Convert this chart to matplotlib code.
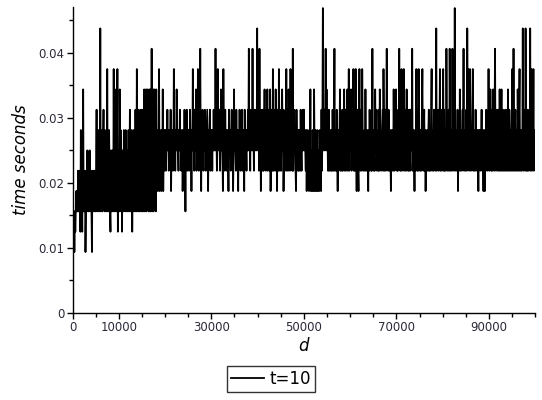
import numpy as np
import matplotlib
matplotlib.use('Agg')
import matplotlib.pyplot as plt

######################################
# data : timing levels
# (timer resolution 1/320 s, one value every 100 in d)
######################################

step = 1.0 / 320

seg0 = [0, 4, 3, 5, 3, 5, 4, 5, 6, 5,
        6, 5, 7, 5, 6, 7, 5, 4, 9, 5,
        6, 4, 7, 11, 5, 6, 5, 7, 3, 5,
        7, 5, 8, 6, 5, 7, 6, 8, 5, 7,
        6, 5, 3, 7, 5, 7, 6, 5, 7, 6,
        5, 7, 10, 5, 8, 6, 9, 5, 7, 6,
        14, 5, 8, 7, 9, 5, 8, 10, 6, 9,
        5, 8, 7, 9, 5, 12, 6, 8, 5, 9,
        7, 5, 4, 8, 6, 5, 8, 7, 5, 12,
        6, 8, 5, 9, 11, 5, 8, 12, 4, 7]
seg1 = [8, 5, 11, 6, 9, 5, 7, 4, 8, 6,
        5, 9, 6, 8, 5, 9, 6, 7, 5, 8,
        6, 9, 5, 7, 10, 5, 8, 6, 9, 4,
        7, 5, 9, 6, 8, 5, 10, 7, 5, 12,
        6, 9, 5, 10, 7, 5, 9, 6, 10, 5,
        8, 10, 5, 9, 6, 11, 5, 10, 7, 11,
        5, 9, 11, 6, 10, 5, 11, 8, 5, 11,
        6, 13, 5, 10, 11, 5, 9, 11, 6, 10,
        5, 11, 7, 9, 6, 8, 7, 12, 6, 9,
        7, 8, 6, 9, 7, 11, 6, 8, 7, 9]
seg2 = [8, 9, 7, 9, 8, 10, 8, 9, 7, 8,
        9, 8, 10, 6, 9, 8, 9, 7, 8, 12,
        8, 9, 7, 9, 8, 11, 8, 9, 8, 7,
        9, 8, 10, 8, 9, 7, 8, 9, 6, 8,
        9, 8, 10, 8, 5, 9, 8, 10, 7, 9,
        8, 9, 7, 8, 10, 8, 9, 6, 9, 8,
        12, 8, 9, 7, 10, 8, 9, 11, 7, 9,
        8, 12, 9, 7, 9, 8, 13, 8, 6, 9,
        8, 10, 8, 7, 9, 8, 10, 9, 7, 8,
        9, 10, 8, 6, 9, 8, 9, 10, 7, 9]
seg3 = [8, 9, 7, 9, 8, 10, 8, 9, 8, 13,
        8, 9, 7, 8, 12, 9, 8, 10, 9, 7,
        9, 11, 8, 10, 8, 6, 12, 8, 9, 7,
        10, 8, 9, 7, 8, 9, 8, 6, 10, 8,
        9, 8, 7, 9, 10, 8, 9, 6, 8, 11,
        8, 9, 8, 7, 10, 8, 9, 8, 6, 9,
        8, 10, 8, 7, 9, 8, 10, 7, 8, 9,
        8, 6, 10, 8, 9, 8, 7, 9, 8, 10,
        8, 13, 8, 9, 7, 10, 8, 9, 8, 13,
        8, 9, 7, 10, 8, 9, 8, 10, 8, 14]
seg4 = [9, 8, 10, 7, 13, 8, 9, 6, 10, 8,
        9, 7, 10, 7, 9, 11, 8, 9, 7, 10,
        8, 11, 7, 9, 10, 8, 7, 11, 6, 9,
        8, 10, 7, 12, 7, 9, 10, 8, 7, 11,
        8, 9, 6, 10, 8, 7, 12, 9, 7, 10,
        8, 7, 9, 11, 8, 10, 6, 8, 9, 7,
        10, 8, 12, 7, 9, 10, 7, 11, 8, 9,
        7, 12, 9, 8, 10, 7, 13, 7, 9, 10,
        8, 9, 7, 6, 10, 8, 9, 7, 9, 7,
        9, 8, 7, 10, 8, 7, 9, 8, 10, 8]
seg5 = [10, 8, 9, 8, 7, 9, 6, 8, 9, 7,
        8, 6, 9, 7, 11, 6, 8, 7, 6, 9,
        7, 6, 11, 8, 6, 9, 7, 6, 8, 9,
        6, 8, 7, 6, 9, 7, 8, 6, 10, 7,
        9, 15, 8, 9, 10, 8, 9, 13, 8, 11,
        8, 9, 7, 7, 10, 8, 7, 8, 9, 7,
        9, 7, 10, 8, 7, 9, 13, 7, 9, 8,
        7, 10, 8, 6, 9, 7, 8, 9, 11, 7,
        9, 8, 7, 10, 7, 9, 8, 11, 7, 8,
        10, 7, 9, 8, 11, 7, 9, 12, 7, 10]
seg6 = [8, 9, 11, 7, 9, 10, 8, 12, 7, 9,
        7, 8, 12, 8, 6, 9, 10, 7, 6, 9,
        12, 8, 7, 10, 8, 7, 12, 9, 8, 7,
        8, 9, 7, 11, 8, 7, 8, 9, 8, 6,
        9, 7, 10, 8, 9, 7, 8, 7, 13, 8,
        9, 7, 8, 7, 11, 8, 9, 10, 7, 9,
        8, 7, 10, 7, 11, 9, 8, 7, 8, 9,
        10, 7, 12, 9, 7, 10, 8, 7, 8, 13,
        8, 9, 7, 10, 8, 7, 9, 8, 6, 9,
        7, 8, 9, 7, 11, 8, 7, 8, 9, 11]
seg7 = [9, 7, 9, 7, 10, 8, 13, 9, 7, 8,
        7, 12, 9, 8, 7, 8, 12, 9, 7, 10,
        8, 7, 11, 8, 10, 7, 9, 7, 10, 8,
        7, 10, 8, 9, 13, 7, 9, 7, 8, 6,
        9, 7, 8, 12, 8, 7, 10, 7, 12, 9,
        8, 7, 9, 7, 8, 10, 12, 8, 7, 9,
        10, 7, 9, 6, 8, 7, 9, 8, 7, 9,
        10, 7, 9, 7, 8, 10, 12, 7, 8, 9,
        7, 10, 8, 9, 7, 9, 14, 7, 9, 8,
        10, 7, 8, 9, 12, 7, 10, 8, 7, 9]
seg8 = [9, 12, 7, 10, 7, 9, 8, 7, 13, 9,
        8, 7, 8, 10, 7, 13, 9, 7, 8, 9,
        7, 13, 8, 10, 7, 8, 15, 8, 7, 9,
        8, 7, 10, 6, 9, 7, 8, 11, 7, 8,
        9, 7, 9, 10, 8, 13, 7, 9, 8, 7,
        8, 10, 7, 14, 9, 12, 8, 7, 9, 12,
        8, 7, 9, 8, 10, 12, 7, 9, 8, 7,
        7, 10, 8, 9, 7, 9, 8, 6, 9, 8,
        9, 7, 9, 8, 10, 7, 9, 8, 6, 9,
        8, 6, 9, 7, 10, 8, 9, 7, 8, 12]
seg9 = [8, 7, 8, 11, 9, 7, 10, 7, 9, 11,
        8, 7, 9, 13, 8, 7, 9, 10, 8, 7,
        10, 8, 7, 11, 8, 7, 9, 11, 7, 8,
        10, 7, 8, 9, 7, 10, 8, 7, 9, 10,
        7, 11, 8, 7, 10, 9, 7, 9, 8, 7,
        12, 9, 7, 13, 8, 7, 9, 10, 7, 9,
        8, 7, 11, 9, 7, 10, 12, 7, 9, 8,
        7, 9, 8, 14, 7, 8, 9, 10, 7, 14,
        9, 7, 8, 7, 10, 9, 7, 9, 8, 14,
        7, 10, 12, 7, 9, 8, 12, 7, 8, 9]

levels = seg0 + seg1 + seg2 + seg3 + seg4 + seg5 + seg6 + seg7 + seg8 + seg9
t = np.array(levels) * step
d = np.arange(len(t)) * 100

ytick_vals = [0, 0.01, 0.02, 0.03, 0.04]
ytick_labels = ['0', '0.01', '0.02', '0.03', '0.04']
xtick_vals = [0, 10000, 30000, 50000, 70000, 90000]
xtick_labels = ['0', '10000', '30000', '50000', '70000', '90000']

######################################
# plot
######################################

fig = plt.figure(figsize=(5.42, 4.0), dpi=100)
ax = fig.add_axes([0.1338, 0.2175, 0.8538, 0.7643])

ax.plot(d, t, color='black', lw=1.3, label='t=10')

ax.set_xlim(0, 100000)
ax.set_ylim(0, 0.047)

ax.spines['top'].set_visible(False)
ax.spines['right'].set_visible(False)
ax.spines['left'].set_linewidth(1.0)
ax.spines['bottom'].set_linewidth(1.0)

ax.set_yticks(ytick_vals)
ax.set_yticklabels(ytick_labels)
ax.set_yticks(np.arange(0.005, 0.047, 0.01), minor=True)
ax.set_xticks(xtick_vals)
ax.set_xticklabels(xtick_labels)
ax.set_xticks(np.arange(5000, 100001, 5000), minor=True)

ax.tick_params(axis='both', which='major', length=4, width=1, labelsize=8.5,
               labelcolor='#2a2a3a', pad=2)
ax.tick_params(axis='both', which='minor', length=3, width=1)

ax.set_xlabel('d', fontsize=12, style='italic', labelpad=2)
ax.set_ylabel('time seconds', fontsize=12, style='italic', labelpad=6)

leg = fig.legend(loc='center', bbox_to_anchor=(0.5, 1 - 379 / 400),
                 fontsize=12, frameon=True, fancybox=False, handlelength=2.0,
                 handletextpad=0.3, borderpad=0.25, borderaxespad=0)
leg.get_frame().set_edgecolor('black')
leg.get_frame().set_linewidth(1.0)

fig.savefig('out.png', dpi=100)
